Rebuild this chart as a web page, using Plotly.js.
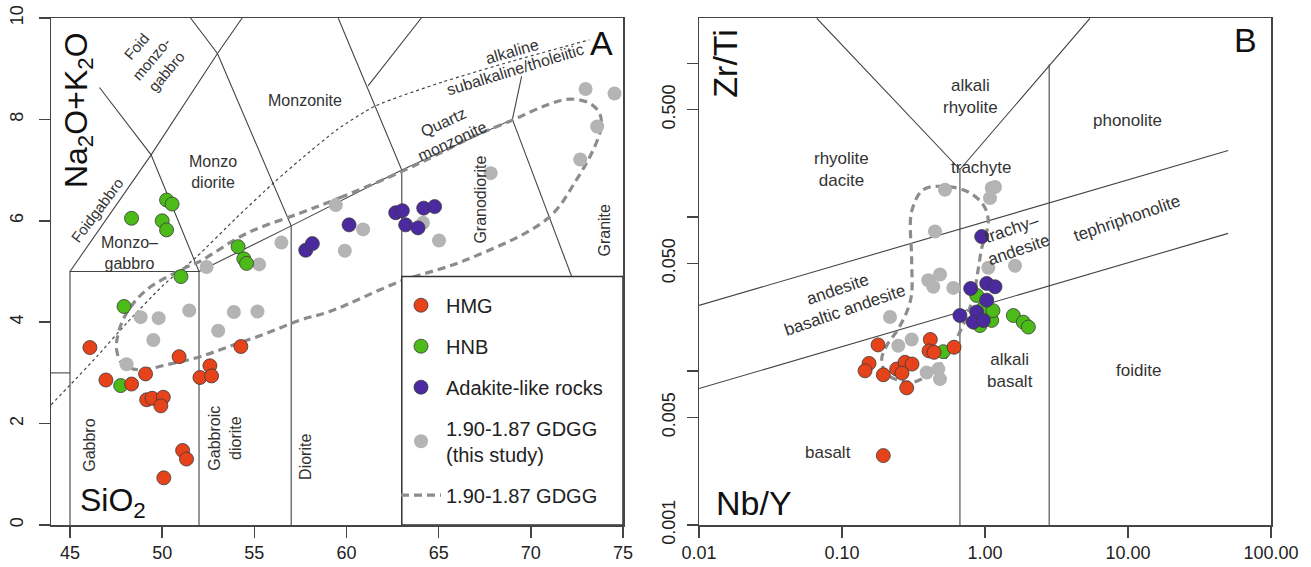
<!DOCTYPE html>
<html>
<head>
<meta charset="utf-8">
<script src="https://cdn.plot.ly/plotly-3.0.1.min.js"></script>
<style>html,body{margin:0;padding:0;background:#fff;}#chart{width:1311px;height:567px;}</style>
</head>
<body>
<div id="chart"></div>
<script>
// ---------- Panel A: TAS (SiO2 vs Na2O+K2O) ----------
const hmgSiO2 = [46.08,46.95,48.34,49.10,49.16,49.46,50.06,49.93,50.92,51.11,51.32,50.09,52.05,52.59,52.68,54.27];
const hmgAlk  = [3.50,2.86,2.78,2.98,2.47,2.50,2.52,2.35,3.32,1.47,1.30,0.93,2.91,3.14,2.94,3.52];

const hnbSiO2 = [47.93,47.75,51.02,48.34,50.24,50.54,50.00,50.24,54.12,54.43,54.58];
const hnbAlk  = [4.31,2.75,4.90,6.05,6.41,6.33,6.00,5.82,5.49,5.25,5.16];

const adkSiO2 = [57.79,58.15,60.14,62.67,63.03,63.21,63.88,64.19,64.78];
const adkAlk  = [5.42,5.55,5.92,6.16,6.20,5.92,5.86,6.25,6.28];

const gdggSiO2 = [48.83,49.81,49.52,48.07,51.47,53.04,53.89,55.17,52.41,55.26,56.47,59.42,60.90,59.91,64.15,65.02,67.82,72.97,74.54,73.60,72.68];
const gdggAlk  = [4.10,4.08,3.65,3.17,4.23,3.83,4.20,4.21,5.09,5.14,5.57,6.31,5.83,5.41,5.96,5.61,6.94,8.60,8.51,7.86,7.21];

// published 1.90-1.87 GDGG field (dashed envelope)
const envSiO2 = [62.98,59.81,57.47,54.57,52.05,51.30,49.16,48.07,47.62,47.53,47.89,48.79,50.24,52.05,53.85,55.66,57.47,59.09,62.89,66.50,70.93,72.46,73.46,73.82,73.73,73.18,72.10,70.84,69.03,66.86,65.05,62.98];
const envAlk  = [6.97,6.48,6.15,5.75,5.20,5.08,4.64,4.18,3.78,3.45,3.16,3.06,3.16,3.32,3.55,3.78,4.04,4.21,4.80,5.23,6.05,6.80,7.46,7.86,8.12,8.32,8.40,8.28,7.99,7.66,7.33,6.97];

// TAS (plutonic) field boundaries
const tasX = [45,45,52,52,null,43.97,45,null,45,49.4,53,54.34,null,46.6,49.4,52,57,63,69,69.5,null,51.54,53,57,57,null,59.55,63,63,null,61.17,64.06,null,69,77.3];
const tasY = [0,5,5,0,null,3,3,null,5,7.3,9.3,10,null,8.63,7.3,5,5.9,7,8,8.85,null,10,9.3,5.9,0,null,10,7,0,null,8.66,10,null,8,0];

// alkaline / subalkaline divide
const divX = [43.97,45,46.45,48.07,50.06,51.87,54.0,56.11,57.47,59.5,61.53,65.23,69.0,73.18];
const divY = [2.37,2.76,3.32,3.98,4.73,5.29,6.05,6.77,7.20,7.80,8.26,8.74,9.15,9.57];

const tasTicks = [45,50,55,60,65,70,75];
const alkTicks = [0,2,4,6,8,10];

// ---------- Panel B: Nb/Y vs Zr/Ti ----------
const hmgNbY  = [0.1787,0.1545,0.1449,0.1945,0.2413,0.2758,0.3088,0.2628,0.2834,0.4145,0.4060,0.4398,0.6071,0.1945];
const hmgZrTi = [0.01479,0.01122,0.01004,0.00946,0.01031,0.01140,0.01111,0.00970,0.00778,0.01603,0.01352,0.01324,0.01429,0.002825];

const hnbNbY  = [0.511,0.875,0.968,1.114,0.923,1.578,1.853,2.010,1.137];
const hnbZrTi = [0.01337,0.0310,0.0254,0.02134,0.01977,0.02296,0.02079,0.01932,0.0247];

const adkNbY  = [0.948,0.794,1.028,1.175,1.028,0.875,0.668,0.828,0.973];
const adkZrTi = [0.0748,0.0344,0.0371,0.0353,0.0289,0.0242,0.02296,0.0208,0.0213];

const gdggNbY  = [0.525,1.114,1.175,1.084,0.447,0.4014,0.4844,0.435,0.6003,0.2167,1.055,1.621,0.2475,0.307,0.391,0.4714,0.4844];
const gdggZrTi = [0.1508,0.1547,0.157,0.133,0.0807,0.0389,0.0424,0.0353,0.0347,0.02244,0.0469,0.0483,0.01462,0.01603,0.0098,0.0103,0.00887];

const env2NbY  = [0.307,0.370,0.511,0.745,0.973,1.055,0.948,0.898,0.851,0.760,0.668,0.569,0.469,0.380,0.314,0.254,0.203,0.1895,0.2054,0.2475,0.2894,0.307,0.307,0.307];
const env2ZrTi = [0.1089,0.1508,0.1587,0.1473,0.1203,0.0937,0.0627,0.0464,0.0344,0.0236,0.0180,0.0135,0.0106,0.00914,0.00847,0.00865,0.00970,0.01197,0.01462,0.01882,0.02542,0.0319,0.0539,0.1089];

// Winchester & Floyd field boundaries
const wfX = [0.0666,0.668,5.42,null,0.668,0.668,null,2.81,2.81,null,0.01,50.2,null,0.01,50.2];
const wfY = [1.96,0.204,1.96,null,0.204,0.001,null,0.98,0.001,null,0.0267,0.271,null,0.0077,0.0785];

const nbyTicks = [0.01,0.1,1,10,100];
const nbyText  = ['0.01','0.10','1.00','10.00','100.00'];
const zrtiTicks = [0.001,0.005,0.01,0.05,0.1,0.5,1];
const zrtiText  = ['0.001','0.005',' ','0.050',' ','0.500',' '];

// ---------- styling ----------
const FONT = 'Liberation Sans, Arial, sans-serif';
const C_HMG = '#e6431b', C_HNB = '#4cbb1a', C_ADK = '#4a2a9e', C_GRAY = '#b4b4b4';
const OUT = {color:'#3a3a3a', width:0.8};
const MS = 14;

function pts(x,y,name,color,xa,ya,show,rank,outline){
  return {type:'scatter',mode:'markers',x:x,y:y,name:name,xaxis:xa,yaxis:ya,
    showlegend:show,legendrank:rank,legendgroup:name,
    marker:{size:MS,color:color,line:outline?OUT:{width:0}},hoverinfo:'skip'};
}

const traces = [
  {type:'scatter',mode:'lines',x:tasX,y:tasY,xaxis:'x',yaxis:'y',showlegend:false,
   line:{color:'#444',width:1.1},hoverinfo:'skip',connectgaps:false},
  {type:'scatter',mode:'lines',x:divX,y:divY,xaxis:'x',yaxis:'y',showlegend:false,
   line:{color:'#444',width:1.2,dash:'dot',shape:'spline',smoothing:0.6},hoverinfo:'skip'},
  {type:'scatter',mode:'lines',x:envSiO2,y:envAlk,xaxis:'x',yaxis:'y',name:'1.90-1.87 GDGG',
   showlegend:true,legendrank:5,legendgroup:'env',
   line:{color:'#8c8c8c',width:3.2,dash:'8px,5px',shape:'spline',smoothing:1},hoverinfo:'skip'},
  pts(gdggSiO2,gdggAlk,'1.90-1.87 GDGG<br>(this study)',C_GRAY,'x','y',true,4,false),
  pts(hnbSiO2,hnbAlk,'HNB',C_HNB,'x','y',true,2,true),
  pts(adkSiO2,adkAlk,'Adakite-like rocks',C_ADK,'x','y',true,3,true),
  pts(hmgSiO2,hmgAlk,'HMG',C_HMG,'x','y',true,1,true),

  {type:'scatter',mode:'lines',x:wfX,y:wfY,xaxis:'x2',yaxis:'y2',showlegend:false,
   line:{color:'#444',width:1.1},hoverinfo:'skip',connectgaps:false},
  {type:'scatter',mode:'lines',x:env2NbY,y:env2ZrTi,xaxis:'x2',yaxis:'y2',showlegend:false,
   line:{color:'#8c8c8c',width:3.2,dash:'8px,5px',shape:'spline',smoothing:1},hoverinfo:'skip'},
  pts(gdggNbY,gdggZrTi,'gray2',C_GRAY,'x2','y2',false,10,false),
  pts(hnbNbY,hnbZrTi,'hnb2',C_HNB,'x2','y2',false,10,true),
  pts(adkNbY,adkZrTi,'adk2',C_ADK,'x2','y2',false,10,true),
  pts(hmgNbY,hmgZrTi,'hmg2',C_HMG,'x2','y2',false,10,true)
];

const axBase = {showgrid:false,zeroline:false,showline:true,linecolor:'#444',linewidth:1.5,mirror:true,
  ticks:'outside',ticklen:11,tickwidth:1.5,tickcolor:'#444',
  tickfont:{family:FONT,size:18,color:'#222'},automargin:false};

function lab(text,x,y,xr,yr,size,angle,extra){
  return Object.assign({text:text,x:x,y:y,xref:xr,yref:yr,showarrow:false,
    textangle:angle||0,font:{family:FONT,size:size,color:'#333'},align:'center'},extra||{});
}

const annotations = [
  // panel A
  lab('Na<sub>2</sub>O+K<sub>2</sub>O',45.45,8.19,'x','y',32,-90,{font:{family:FONT,size:32,color:'#111'}}),
  lab('SiO<sub>2</sub>',47.33,0.45,'x','y',32,0,{font:{family:FONT,size:32,color:'#111'}}),
  lab('A',73.82,9.5,'x','y',34,0,{font:{family:FONT,size:34,color:'#111'}}),
  lab('Foid<br>monzo-<br>gabbro',49.4,9.2,'x','y',15,-50),
  lab('Foidgabbro',46.45,6.21,'x','y',15,-53),
  lab('Monzo<br>diorite',52.75,6.96,'x','y',16,0),
  lab('Monzo–<br>gabbro',48.25,5.36,'x','y',16,0),
  lab('Monzonite',57.74,8.38,'x','y',16,0),
  lab('Quartz<br>monzonite',65.49,7.75,'x','y',16,-25),
  lab('Granodiorite',67.22,6.41,'x','y',16,-90),
  lab('Granite',74.0,5.82,'x','y',16,-90),
  lab('Gabbro',46.08,1.58,'x','y',16,-90),
  lab('Gabbroic<br>diorite',53.4,1.72,'x','y',16,-90),
  lab('Diorite',57.74,1.34,'x','y',16,-90),
  lab('alkaline',68.97,9.34,'x','y',16,-16),
  lab('subalkaline/tholeiitic',69.16,8.99,'x','y',16,-17),
  // panel B (log axes: positions in log10 units)
  lab('Zr/Ti',-1.815,0.0,'x2','y2',34,-90,{font:{family:FONT,size:34,color:'#111'}}),
  lab('Nb/Y',-1.615,-2.856,'x2','y2',34,0,{font:{family:FONT,size:34,color:'#111'}}),
  lab('B',1.825,0.15,'x2','y2',34,0,{font:{family:FONT,size:34,color:'#111'}}),
  lab('alkali<br>rhyolite',-0.098,-0.2157,'x2','y2',17,0),
  lab('rhyolite<br>dacite',-1.002,-0.693,'x2','y2',17,0),
  lab('trachyte',-0.028,-0.680,'x2','y2',17,0),
  lab('phonolite',0.993,-0.373,'x2','y2',17,0),
  lab('tephriphonolite',0.991,-1.0065,'x2','y2',17,-19),
  lab('trachy–<br>andesite',0.21,-1.144,'x2','y2',17,-19),
  lab('andesite<br>basaltic andesite',-1.0,-1.536,'x2','y2',17,-19),
  lab('alkali<br>basalt',0.175,-1.998,'x2','y2',17,0),
  lab('foidite',1.07,-1.998,'x2','y2',17,0),
  lab('basalt',-1.101,-2.527,'x2','y2',17,0)
];

const layout = {
  width:1311,height:567,
  margin:{l:0,r:0,t:18,b:42,pad:0},
  paper_bgcolor:'#fff',plot_bgcolor:'#fff',
  font:{family:FONT,color:'#222'},
  xaxis:Object.assign({},axBase,{domain:[51/1311,623/1311],range:[43.97,75],tickvals:tasTicks,anchor:'y',ticklabelstandoff:0}),
  yaxis:Object.assign({},axBase,{domain:[0,1],range:[0,10],tickvals:alkTicks,tickangle:-90,anchor:'x',ticklabelstandoff:8}),
  xaxis2:Object.assign({},axBase,{domain:[699/1311,1271/1311],type:'log',range:[-2,2],tickvals:nbyTicks,ticktext:nbyText,anchor:'y2',ticklabelstandoff:0}),
  yaxis2:Object.assign({},axBase,{domain:[0,1],type:'log',range:[-3,0.294],tickvals:zrtiTicks,ticktext:zrtiText,tickangle:-90,anchor:'x2',ticklabelstandoff:4}),
  shapes:[
    {type:'rect',xref:'x',yref:'y',x0:63,x1:75,y0:0,y1:4.9,fillcolor:'#fff',line:{color:'#333',width:1.5},layer:'above'}
  ],
  legend:{x:396/1311,xanchor:'left',y:0.472,yanchor:'top',bgcolor:'rgba(0,0,0,0)',borderwidth:0,
    font:{family:FONT,size:20,color:'#222'},tracegroupgap:12,itemsizing:'trace',itemwidth:40,traceorder:'grouped'},
  annotations:annotations
};

Plotly.newPlot('chart',traces,layout,{displayModeBar:false,staticPlot:true});
</script>
</body>
</html>
